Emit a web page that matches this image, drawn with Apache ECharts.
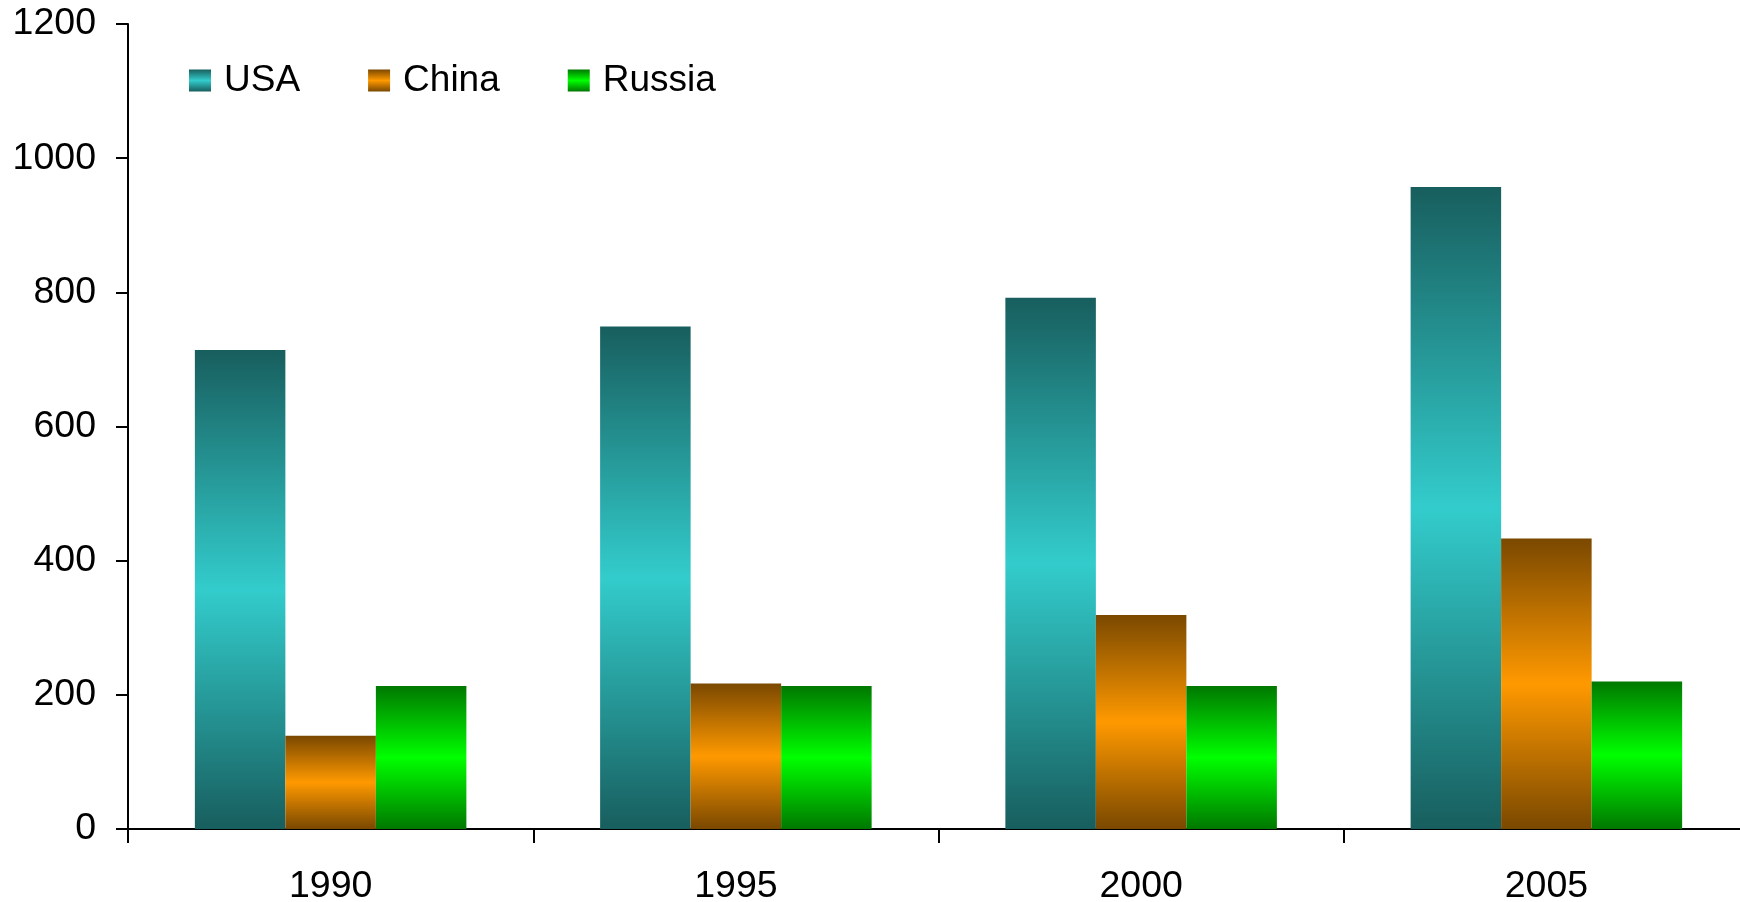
<!DOCTYPE html>
<html>
<head>
<meta charset="utf-8">
<script src="https://cdn.jsdelivr.net/npm/echarts@6/dist/echarts.min.js"></script>
<style>
  html, body { margin: 0; padding: 0; background: #fff; }
  #main { width: 1740px; height: 902px; }
</style>
</head>
<body>
<div id="main"></div>
<script>
// data
const years = ['1990', '1995', '2000', '2005'];
const usa = [714, 749, 792, 957];
const china = [139, 217, 319, 433];
const russia = [213, 213, 213, 220];

// dark - bright - dark vertical gradient, like the old office bars
function bandFill(dark, bright) {
  return new echarts.graphic.LinearGradient(0, 0, 0, 1, [
    { offset: 0, color: dark },
    { offset: 0.5, color: bright },
    { offset: 1, color: dark },
  ]);
}

const font = 'Liberation Sans, Arial, sans-serif';

let myChart = echarts.init(document.getElementById('main'));

let option = {
  backgroundColor: '#ffffff',
  animation: false,
  textStyle: { fontFamily: font, color: '#000' },
  legend: {
    left: 189,
    top: 62,
    padding: 0,
    icon: 'rect',
    itemWidth: 22,
    itemHeight: 22,
    itemGap: 68,
    textStyle: { fontSize: 37, color: '#000', fontFamily: font, padding: [0, 0, 0, 8] },
    data: ['USA', 'China', 'Russia'],
  },
  grid: {
    left: 128,
    right: -9,
    top: 24,
    bottom: 73,
    outerBoundsMode: 'none',
  },
  xAxis: {
    type: 'category',
    data: years,
    boundaryGap: true,
    axisLine: { lineStyle: { color: '#000', width: 2 } },
    axisTick: { show: true, length: 14, lineStyle: { color: '#000', width: 2 } },
    axisLabel: { fontSize: 37.5, color: '#000', margin: 39, fontFamily: font },
  },
  yAxis: {
    type: 'value',
    min: 0,
    max: 1200,
    interval: 200,
    axisLine: { show: true, lineStyle: { color: '#000', width: 2 } },
    axisTick: { show: true, length: 12, lineStyle: { color: '#000', width: 2 } },
    axisLabel: {
      fontSize: 37.5,
      color: '#000',
      margin: 32,
      fontFamily: font,
      formatter: (v) => String(v),
    },
    splitLine: { show: false },
  },
  series: [
    {
      name: 'USA',
      type: 'bar',
      data: usa,
      barGap: '0%',
      barCategoryGap: '33%',
      itemStyle: { color: bandFill('#185e5e', '#33cccc') },
    },
    {
      name: 'China',
      type: 'bar',
      data: china,
      itemStyle: { color: bandFill('#7a4800', '#ff9900') },
    },
    {
      name: 'Russia',
      type: 'bar',
      data: russia,
      itemStyle: { color: bandFill('#007800', '#00ff00') },
    },
  ],
};

myChart.setOption(option);
</script>
</body>
</html>
